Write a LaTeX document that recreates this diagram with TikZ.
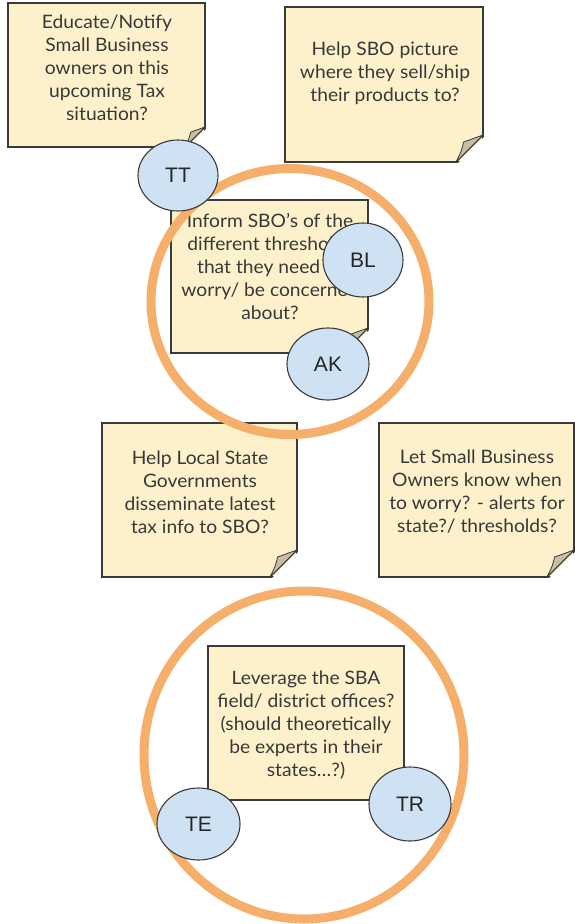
\documentclass[tikz,border=0pt]{standalone}
\usepackage{fontspec}
\setmainfont{Lato}[FakeStretch=1.04]
\newfontfamily\labelfont{Liberation Sans}
\usetikzlibrary{shapes.geometric}
\definecolor{notebg}{HTML}{FDF1CB}
\definecolor{noteline}{HTML}{3A3A3A}
\definecolor{foldgray}{HTML}{C6BFA6}
\definecolor{bubble}{HTML}{CFE2F3}
\definecolor{ringcol}{HTML}{F5AF6A}
\definecolor{txt}{HTML}{383838}
\tikzset{
 notebox/.style={draw=noteline, fill=notebg, line width=1.1pt, rectangle, inner sep=0pt},
 notetext/.style={align=center, text=txt, font=\fontsize{18.5}{23}\selectfont, inner sep=0pt},
 bubblenode/.style={ellipse, draw=noteline, fill=bubble, line width=1.1pt, inner sep=0pt, font=\labelfont\fontsize{21}{24}\selectfont, text=black!85},
 ringline/.style={draw=ringcol, line width=9pt},
 foldpart/.style={fill=foldgray, draw=noteline, line width=0.8pt, line join=round},
 foldedge/.style={draw=noteline, line width=1.1pt}
}
\newcommand\mknote[6]{%
 \node[notebox, minimum width={(#4)-(#2)}, minimum height={(#5)-(#3)}] (#1) at ({((#2)+(#4))/2},{((#3)+(#5))/2}) {};
 \fill[white] (#4+3,#5-#6) -- (#4+3,#5+3) -- (#4-#6,#5+3) -- cycle;
 \draw[foldedge] (#4,#5-#6-1) -- (#4,#5-#6) -- (#4-#6,#5) -- (#4-#6-1,#5);
 \filldraw[foldpart] (#4,#5-#6) .. controls (#4-0.35*#6,#5-0.85*#6) .. (#4-0.72*#6,#5-0.74*#6) .. controls (#4-0.8*#6,#5-0.4*#6) .. (#4-#6,#5) -- cycle;
}
\begin{document}
\begin{tikzpicture}[x=1pt,y=-1pt]
\useasboundingbox[fill=white] (0,0) rectangle (574,924);
% sticky notes
\mknote{n1}{8}{3}{205}{147}{20}
\mknote{n2}{285}{7}{483}{162}{27}
\mknote{n3}{171}{200}{368}{353}{25}
\mknote{n4}{102}{423}{297}{577}{27}
\mknote{n5}{379}{423}{574}{577}{27}
\mknote{n6}{208}{646}{404}{800}{25}
\node[notetext] (t1) at (107,68) {Educate/Notify\\Small Business\\owners on this\\upcoming Tax\\situation?};
\node[notetext] (t2) at (385,73) {Help SBO picture\\where they sell/ship\\their products to?};
\node[notetext] (t3) at (270,266) {Inform SBO’s of the\\different thresholds\\that they need to\\worry/ be concerned\\about?};
\node[notetext] (t4) at (200,492) {Help Local State\\Governments\\disseminate latest\\tax info to SBO?};
\node[notetext] (t5) at (477,492) {Let Small Business\\Owners know when\\to worry? - alerts for\\state?/ thresholds?};
\node[notetext] (t6) at (306,725) {Leverage the SBA\\field/ district offices?\\(should theoretically\\be experts in their\\states…?)};
% orange rings
\draw[ringline] (290,301.5) ellipse [x radius=139, y radius=133];
\draw[ringline] (304,755) ellipse [x radius=160, y radius=164];
% initials
\node[bubblenode, minimum width=80pt, minimum height=71pt] (TT) at (178,175.5) {TT};
\node[bubblenode, minimum width=80pt, minimum height=74pt] (BL) at (363,260) {BL};
\node[bubblenode, minimum width=82pt, minimum height=72pt] (AK) at (328,364) {AK};
\node[bubblenode, minimum width=83pt, minimum height=72pt] (TE) at (198.5,824) {TE};
\node[bubblenode, minimum width=82pt, minimum height=74pt] (TR) at (410,804) {TR};
\end{tikzpicture}
\end{document}
